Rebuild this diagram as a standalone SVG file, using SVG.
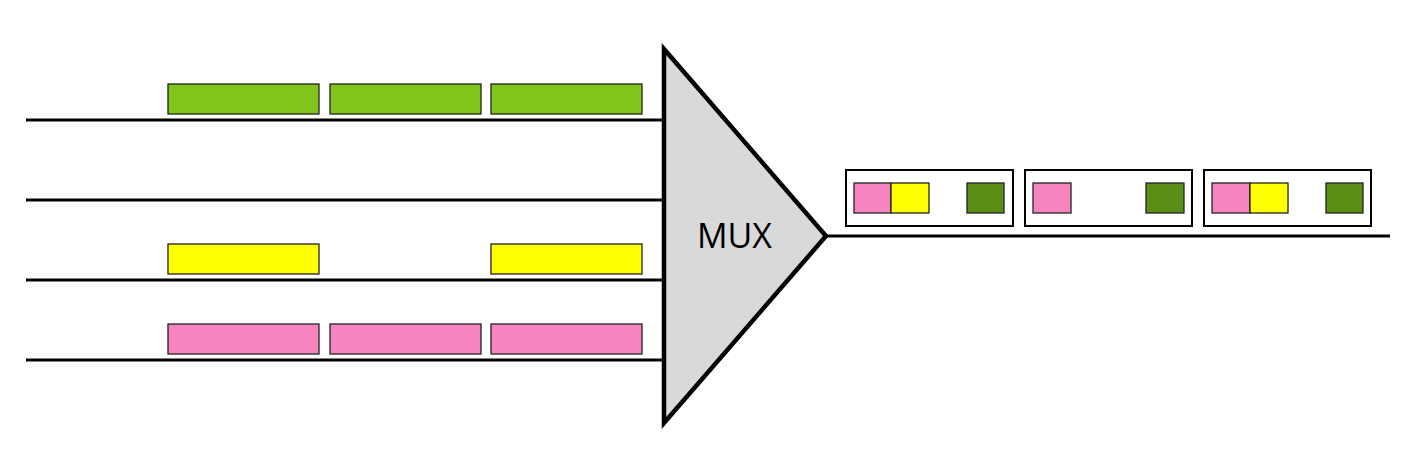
<svg xmlns="http://www.w3.org/2000/svg" width="1419" height="470" viewBox="0 0 1419 470">
<style>
.line{stroke:#000;stroke-width:3;fill:none}
.cell{stroke:#222;stroke-width:1.3}
.g{fill:#80c41c}
.y{fill:#ffff00}
.p{fill:#f684c0}
.dg{fill:#5b8e14}
.frame{fill:#fff;stroke:#000;stroke-width:2}
</style>
<rect width="1419" height="470" fill="#fff"/>
<g id="connectors">
<line class="line" x1="26" y1="120" x2="664" y2="120"/>
<line class="line" x1="26" y1="200" x2="664" y2="200"/>
<line class="line" x1="26" y1="280" x2="664" y2="280"/>
<line class="line" x1="26" y1="360" x2="664" y2="360"/>
<line class="line" x1="826" y1="236" x2="1390" y2="236"/>
</g>
<g id="input1">
<rect class="cell g" x="168" y="84" width="151" height="30"/>
<rect class="cell g" x="330" y="84" width="151" height="30"/>
<rect class="cell g" x="491" y="84" width="151" height="30"/>
</g>
<g id="input3">
<rect class="cell y" x="168" y="244" width="151" height="30"/>
<rect class="cell y" x="491" y="244" width="151" height="30"/>
</g>
<g id="input4">
<rect class="cell p" x="168" y="324" width="151" height="30"/>
<rect class="cell p" x="330" y="324" width="151" height="30"/>
<rect class="cell p" x="491" y="324" width="151" height="30"/>
</g>
<g id="mux">
<polygon points="664,49 826,236 664,423" fill="#d9d9d9" stroke="#000" stroke-width="4.5" stroke-linejoin="miter"/>
<text x="734.5" y="248" font-family="Open Sans, DejaVu Sans, sans-serif" font-size="34" text-anchor="middle" fill="#000">MUX</text>
</g>
<g id="frame1">
<rect class="frame" x="846" y="170" width="167" height="56"/>
<rect class="cell p" x="854" y="183" width="37" height="30"/>
<rect class="cell y" x="891" y="183" width="38" height="30"/>
<rect class="cell dg" x="967" y="183" width="37" height="30"/>
</g>
<g id="frame2">
<rect class="frame" x="1025" y="170" width="167" height="56"/>
<rect class="cell p" x="1033" y="183" width="38" height="30"/>
<rect class="cell dg" x="1146" y="183" width="38" height="30"/>
</g>
<g id="frame3">
<rect class="frame" x="1204" y="170" width="167" height="56"/>
<rect class="cell p" x="1212" y="183" width="38" height="30"/>
<rect class="cell y" x="1250" y="183" width="38" height="30"/>
<rect class="cell dg" x="1326" y="183" width="37" height="30"/>
</g>
</svg>
